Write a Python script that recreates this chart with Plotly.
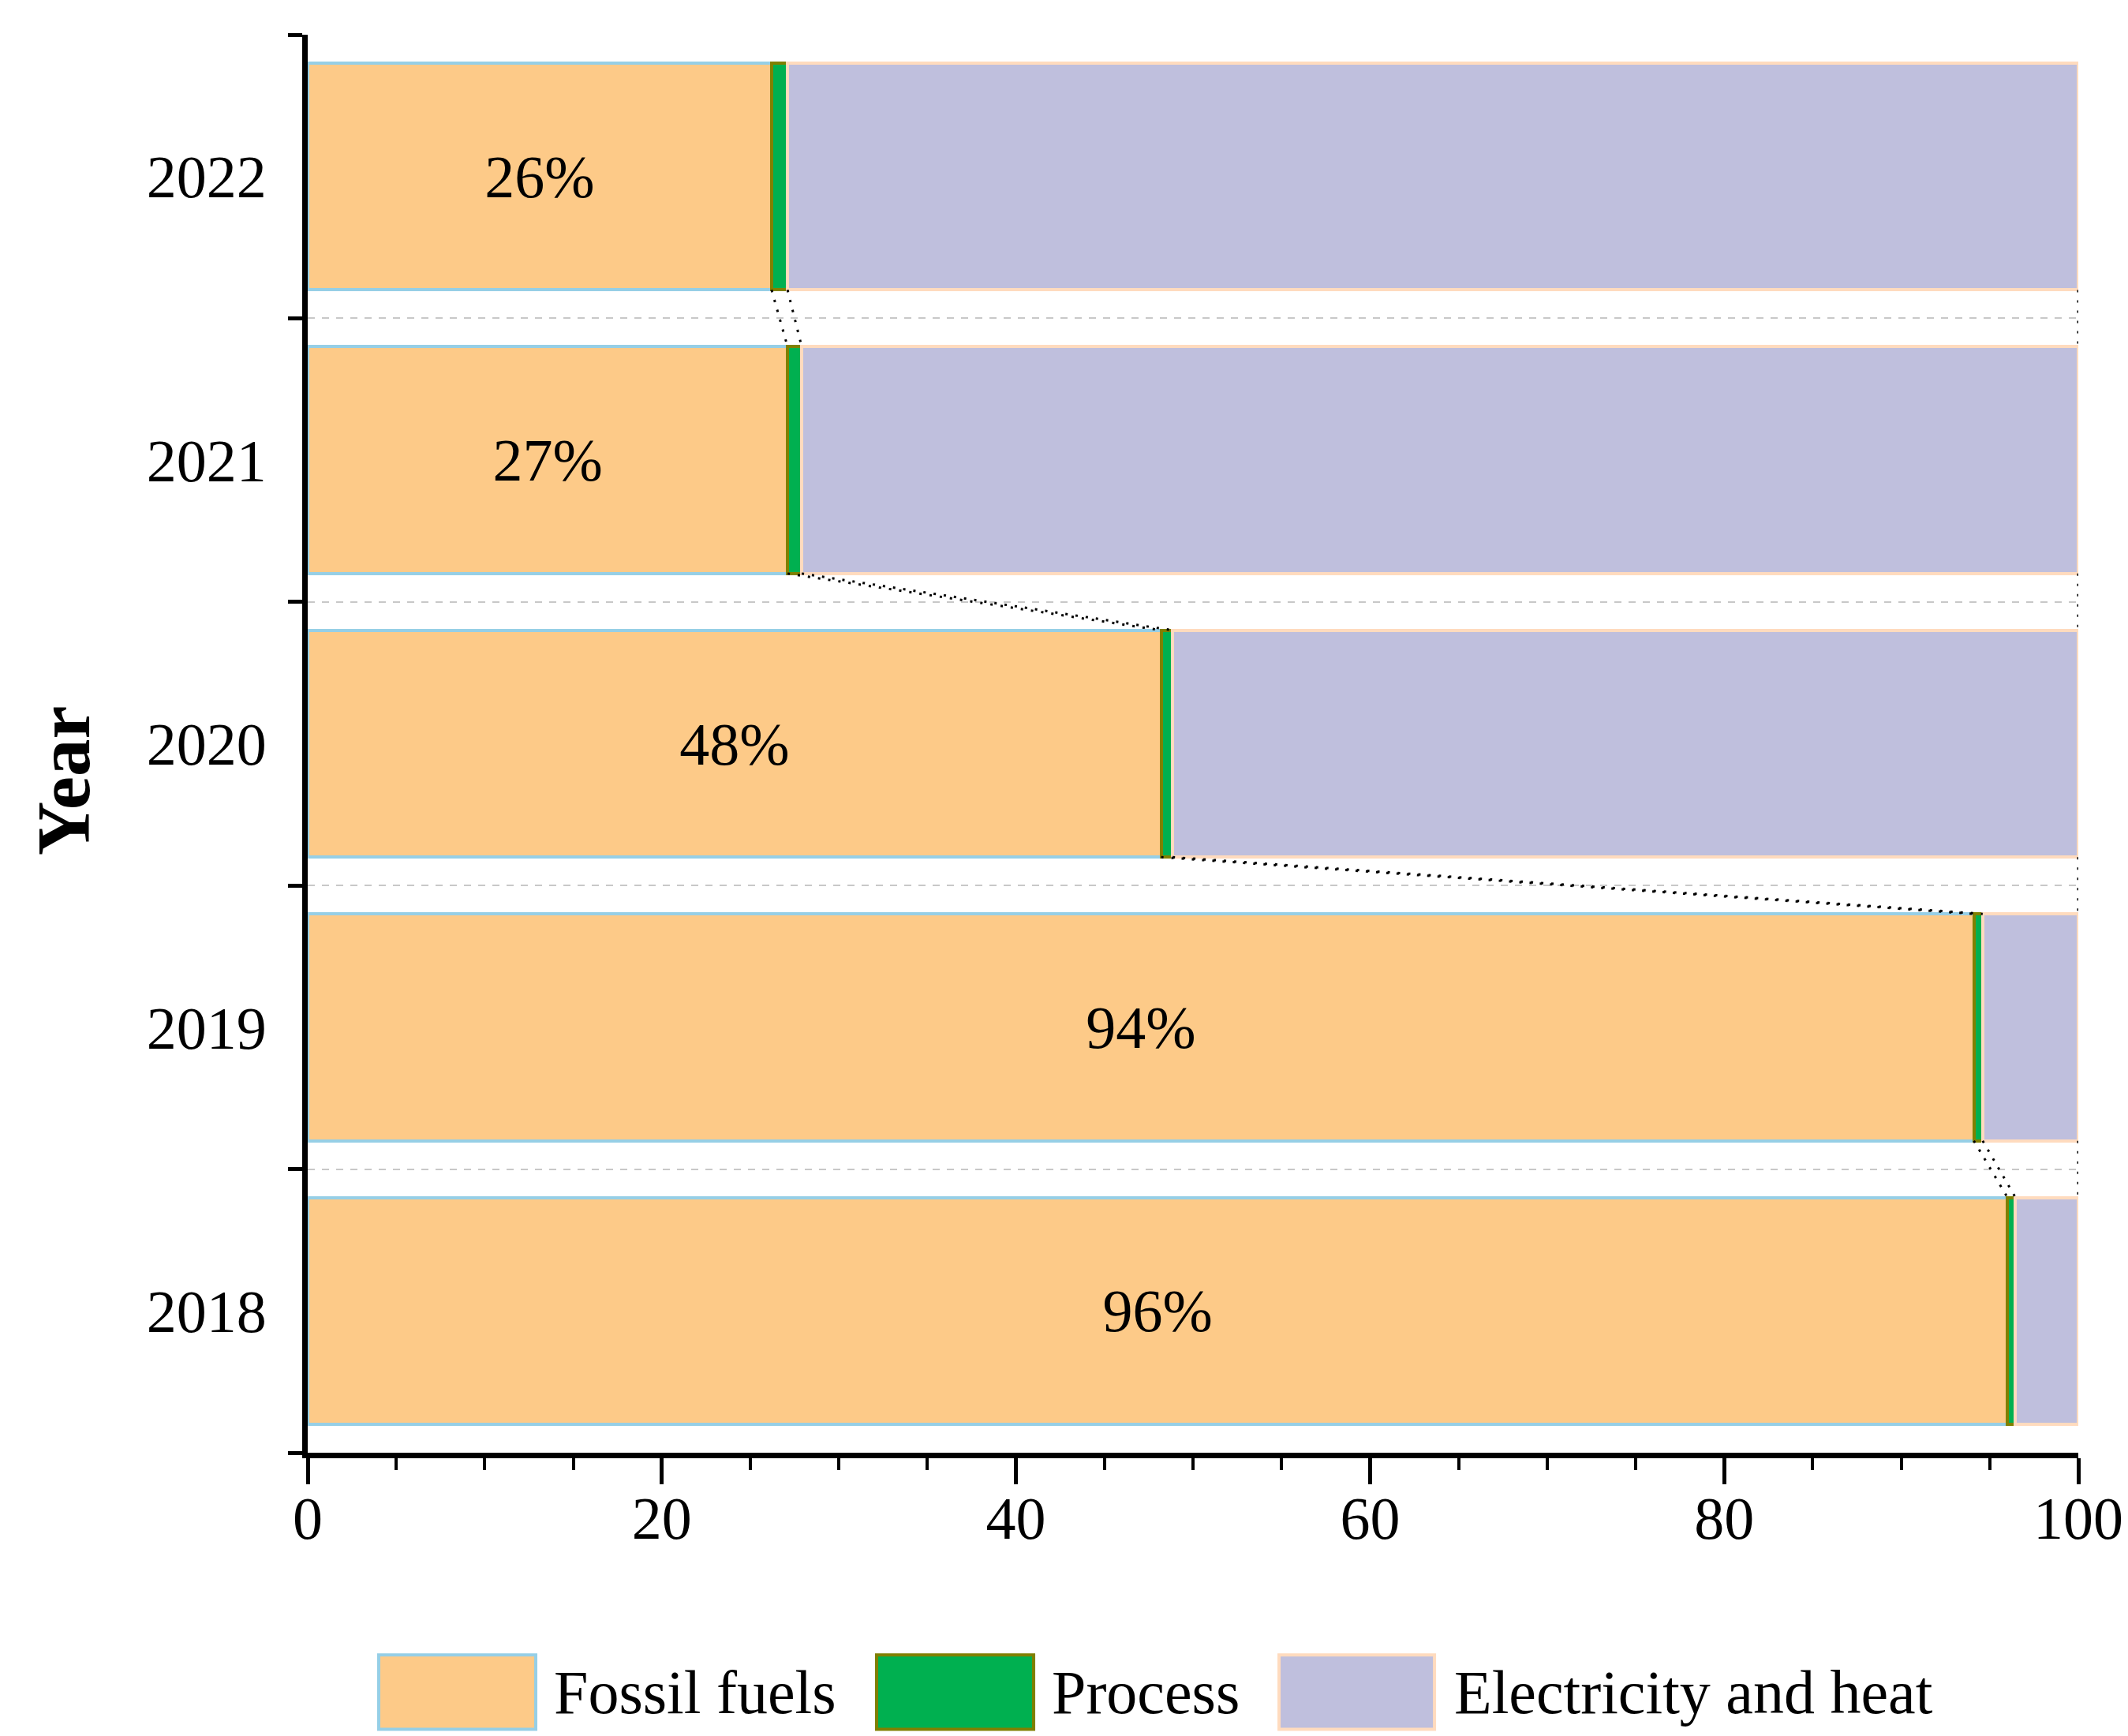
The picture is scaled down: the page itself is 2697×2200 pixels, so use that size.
import plotly.graph_objects as go

# ---- data ----
years = ["2018", "2019", "2020", "2021", "2022"]
fossil = [96.0, 94.1, 48.2, 27.1, 26.2]
process = [0.45, 0.5, 0.65, 0.8, 0.9]
electricity = [3.55, 5.4, 51.15, 72.1, 72.9]
fossil_labels = ["96%", "94%", "48%", "27%", "26%"]
series_names = ["Fossil fuels", "Process", "Electricity and heat"]
x_ticks = [0, 20, 40, 60, 80, 100]

# ---- style ----
fills = ["#FDCA88", "#00B050", "#BFBFDD"]
edges = ["#96CFE6", "#808000", "#FFDBBE"]
FONT = "Liberation Serif"
BAR_W = 0.8
W, H = 2697, 2200
ML, MR, MT, MB = 382, 71, 36, 367

pos = list(range(len(years)))
series = [fossil, process, electricity]
texts = [fossil_labels, None, None]

fig = go.Figure()
for name, vals, fc, ec, txt in zip(series_names, series, fills, edges, texts):
    fig.add_trace(go.Bar(
        y=pos, x=vals, orientation="h", name=name, width=BAR_W,
        marker=dict(color=fc, line=dict(color=ec, width=4)),
        text=txt, textposition="inside" if txt else "none",
        insidetextanchor="middle", textangle=0,
        textfont=dict(family=FONT, size=76, color="black"),
        showlegend=False, hoverinfo="skip",
    ))

# connector dotted lines between segment edges of adjacent bars
cum_edges = []
run = [0.0] * len(years)
for vals in series:
    run = [r + v for r, v in zip(run, vals)]
    cum_edges.append(run)
xs, ys = [], []
for i in range(len(years) - 1):
    for ce in cum_edges:
        xs += [ce[i + 1], ce[i], None]
        ys += [pos[i + 1] - BAR_W / 2, pos[i] + BAR_W / 2, None]
fig.add_trace(go.Scatter(x=xs, y=ys, mode="lines",
                         line=dict(color="black", width=3, dash="3px,10px"),
                         showlegend=False, hoverinfo="skip"))

boundaries = [p - 0.5 for p in pos] + [pos[-1] + 0.5]

fig.update_layout(
    width=W, height=H, barmode="stack",
    margin=dict(l=ML, r=MR, t=MT, b=MB),
    plot_bgcolor="white", paper_bgcolor="white",
    font=dict(family=FONT, color="black"),
    xaxis=dict(
        range=[0, 100], tickvals=x_ticks, ticks="outside", ticklen=33, tickwidth=5,
        tickcolor="black", showline=True, linewidth=7, linecolor="black",
        showgrid=False, zeroline=False, tickfont=dict(size=76, family=FONT),
        ticklabelstandoff=-22,
        minor=dict(dtick=5, ticks="outside", ticklen=15, tickwidth=4, tickcolor="black", showgrid=False),
    ),
    yaxis=dict(
        range=[boundaries[0], boundaries[-1]], tickvals=pos, ticktext=years, ticks="",
        showline=True, linewidth=7, linecolor="black", showgrid=False, zeroline=False,
        tickfont=dict(size=76, family=FONT), ticklabelstandoff=30,
        minor=dict(tickvals=boundaries, ticks="outside", ticklen=18, tickwidth=5,
                   tickcolor="black", showgrid=True, gridcolor="#C8C8C8",
                   griddash="dash", gridwidth=2),
    ),
)

# y-axis title
fig.add_annotation(xref="paper", yref="paper", x=-0.1377, y=0.474, text="<b>Year</b>",
                   textangle=-90, showarrow=False, xanchor="center", yanchor="middle",
                   font=dict(size=95, family=FONT, color="black"))

# manual legend with large swatches
leg_sw = [(0.0401, 0.1288), (0.3213, 0.4100), (0.5486, 0.6364)]
leg_tx = [0.1381, 0.4193, 0.6466]
y0, y1, yc = -0.195, -0.1426, -0.169
for name, fc, ec, (a, b), tx in zip(series_names, fills, edges, leg_sw, leg_tx):
    fig.add_shape(type="rect", xref="paper", yref="paper", x0=a, x1=b, y0=y0, y1=y1,
                  fillcolor=fc, line=dict(color=ec, width=4))
    fig.add_annotation(xref="paper", yref="paper", x=tx, y=yc, text=name, showarrow=False,
                       xanchor="left", yanchor="middle", font=dict(size=78, family=FONT, color="black"))

fig.write_html("out.html")
